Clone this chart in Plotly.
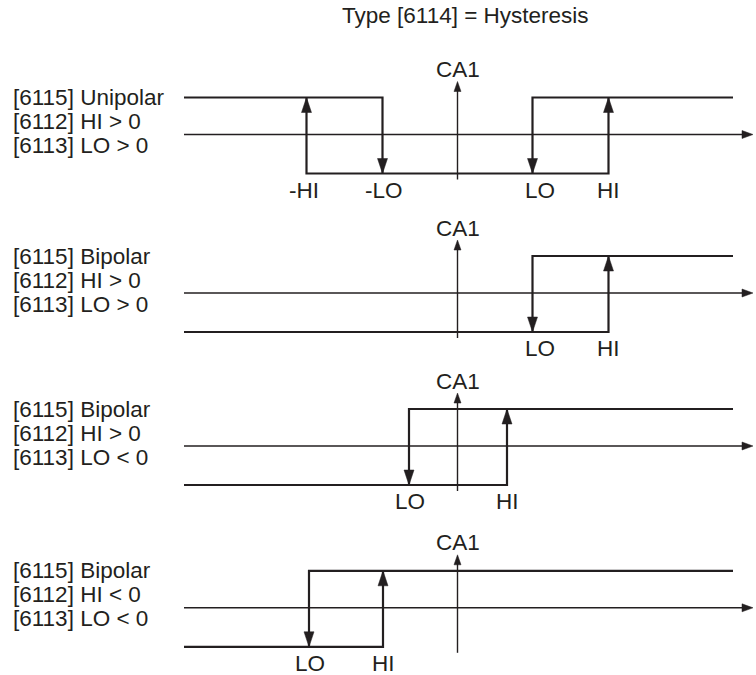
import plotly.graph_objects as go

# ---------------- data (input units = px offset from the CA1 axis) ----------------
title_text = "Type [6114] = Hysteresis"
mode_names = ["Unipolar", "Bipolar", "Bipolar", "Bipolar"]
hi_signs = [">", ">", ">", "<"]
lo_signs = [">", ">", "<", "<"]
lo_values = [75, 75, -48.5, -148.5]
hi_values = [151, 151, 49.5, -74.5]
is_unipolar = [True, False, False, False]
axis_label = "CA1"
x_line_start = -273.5
x_line_end = 275.5
x_axis_tip = 295.5

# ---------------- layout / style constants ----------------
W, H = 756, 675
X0 = 457.5                       # pixel position of CA1 axis
PANEL_MID = [135.5, 294, 447, 608.8]
AMP = 38
INK = "#231f20"
FONT = "Liberation Sans, Arial, Helvetica, sans-serif"
FS = 22.5

def tri(tip_x, tip_y, direction, length, width):
    """triangle polygon (pixel-down y). direction: 'up','down','right'"""
    if direction == "up":
        return [tip_x, tip_x - width / 2, tip_x + width / 2, tip_x, None], \
               [tip_y, tip_y + length, tip_y + length, tip_y, None]
    if direction == "down":
        return [tip_x, tip_x - width / 2, tip_x + width / 2, tip_x, None], \
               [tip_y, tip_y - length, tip_y - length, tip_y, None]
    return [tip_x, tip_x - length, tip_x - length, tip_x, None], \
           [tip_y, tip_y - width / 2, tip_y + width / 2, tip_y, None]

axis_x, axis_y = [], []
axhead_x, axhead_y = [], []
loop_x, loop_y = [], []
head_x, head_y = [], []
annotations = []

for i in range(4):
    mid = PANEL_MID[i]
    cax = mid - 1
    high = mid - AMP
    low = mid + AMP
    lo = lo_values[i]
    hi = hi_values[i]

    # input axis (horizontal) and CA1 axis (vertical)
    axis_x += [x_line_start, x_axis_tip - 6, None, 0, 0, None]
    axis_y += [cax, cax, None, cax + 45, cax - 48, None]
    tx, ty = tri(x_axis_tip, cax, "right", 11, 8)
    axhead_x += tx; axhead_y += ty
    tx, ty = tri(0, cax - 53, "up", 10, 7)
    axhead_x += tx; axhead_y += ty

    if is_unipolar[i]:
        loop_x += [x_line_start, -lo, -lo, None,
                   -hi, -hi, hi, hi, None,
                   x_line_end, lo, lo, None]
        loop_y += [high, high, low, None,
                   high, low, low, high, None,
                   high, high, low, None]
        arrows = [(-hi, high, "up"), (-lo, low, "down"), (lo, low, "down"), (hi, high, "up")]
        labels = [("-HI", -hi - 3), ("-LO", -lo + 1), ("LO", lo + 7), ("HI", hi)]
    else:
        loop_x += [x_line_start, hi, hi, None, x_line_end, lo, lo, None]
        loop_y += [low, low, high, None, high, high, low, None]
        arrows = [(hi, high, "up"), (lo, low, "down")]
        labels = [("LO", lo + (7 if lo > 0 else 1)), ("HI", hi)]

    for ax_, ay_, d in arrows:
        tx, ty = tri(ax_, ay_, d, 15, 10)
        head_x += tx; head_y += ty

    for txt, lx in labels:
        annotations.append(dict(x=lx, y=cax + 55.5, text=txt, showarrow=False,
                                xref="x", yref="y", xanchor="center", yanchor="middle",
                                borderpad=0,
                                font=dict(family=FONT, size=FS, color=INK)))
    annotations.append(dict(x=0, y=cax - 65, text=axis_label, showarrow=False,
                            xref="x", yref="y", xanchor="center", yanchor="middle",
                            font=dict(family=FONT, size=FS, color=INK)))
    left_lines = [f"[6115] {mode_names[i]}",
                  f"[6112] HI {hi_signs[i]} 0",
                  f"[6113] LO {lo_signs[i]} 0"]
    for k, t in enumerate(left_lines):
        annotations.append(dict(x=11 - X0, y=high + 24 * k, text=t, showarrow=False,
                                xref="x", yref="y", xanchor="left", yanchor="middle",
                                font=dict(family=FONT, size=FS, color=INK)))

annotations.append(dict(x=465 - X0, y=15, text=title_text, showarrow=False,
                        xref="x", yref="y", xanchor="center", yanchor="middle",
                        font=dict(family=FONT, size=FS, color=INK)))

fig = go.Figure()
fig.add_trace(go.Scatter(x=axis_x, y=axis_y, mode="lines",
                         line=dict(color=INK, width=1.4), hoverinfo="skip"))
fig.add_trace(go.Scatter(x=loop_x, y=loop_y, mode="lines",
                         line=dict(color=INK, width=2.2), hoverinfo="skip"))
fig.add_trace(go.Scatter(x=axhead_x, y=axhead_y, mode="lines", fill="toself",
                         fillcolor=INK, line=dict(color=INK, width=0.5), hoverinfo="skip"))
fig.add_trace(go.Scatter(x=head_x, y=head_y, mode="lines", fill="toself",
                         fillcolor=INK, line=dict(color=INK, width=0.5), hoverinfo="skip"))

fig.update_layout(
    width=W, height=H,
    margin=dict(l=0, r=0, t=0, b=0),
    paper_bgcolor="white", plot_bgcolor="white",
    showlegend=False,
    xaxis=dict(range=[-X0, W - X0], visible=False, fixedrange=True),
    yaxis=dict(range=[H, 0], visible=False, fixedrange=True),
    annotations=annotations,
)

fig.write_html("out.html", config={"displayModeBar": False},
               post_script="document.body.style.margin='0';document.body.style.overflow='hidden';")
